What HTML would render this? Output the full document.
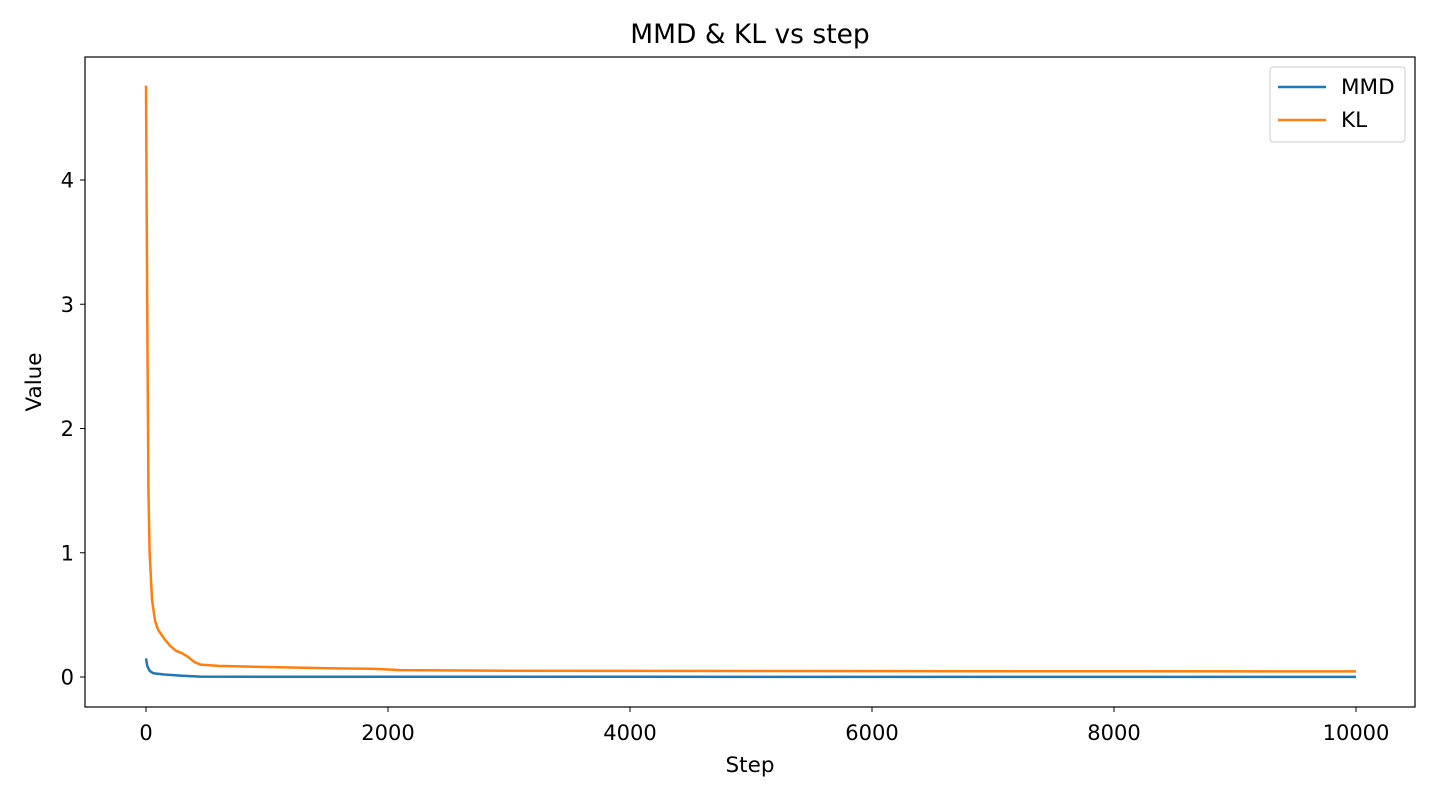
<!DOCTYPE html>
<html><head><meta charset="utf-8"><style>
body{margin:0;background:#fff;font-family:"Liberation Sans","DejaVu Sans",sans-serif}
</style></head><body>
<svg width="1440" height="800" viewBox="0 0 1440 800" id="chart" font-family="DejaVu Sans, Liberation Sans, sans-serif">
<rect width="1440" height="800" fill="#fff"/>
<text x="750" y="43" text-anchor="middle" font-size="26.5">MMD &amp; KL vs step</text>
<g id="plot"></g>
<rect x="85" y="57" width="1330" height="650" fill="none" stroke="#000" stroke-width="1.2"/>
<text x="750" y="772" text-anchor="middle" font-size="21.5">Step</text>
<text transform="translate(41,382) rotate(-90)" text-anchor="middle" font-size="21.5">Value</text>
<g>
<rect x="1270" y="67" width="135" height="75" rx="3" fill="#fff" stroke="#ccc"/>
<line x1="1278" y1="87" x2="1326" y2="87" stroke="#1f77b4" stroke-width="2.5"/>
<text x="1341" y="94" font-size="21.5">MMD</text>
<line x1="1278" y1="120" x2="1326" y2="120" stroke="#ff7f0e" stroke-width="2.5"/>
<text x="1341" y="127" font-size="21.5">KL</text>
</g>
</svg>
<script>
const steps = [0,10,20,30,50,75,100,150,200,250,300,350,400,450,600,1000,1500,1900,2100,3000,5000,10000];
const klValues = [4.76,3.0,1.5,1.0,0.62,0.45,0.38,0.31,0.25,0.21,0.19,0.16,0.12,0.10,0.09,0.08,0.07,0.065,0.055,0.05,0.048,0.045];
const mmdSteps = [0,10,30,60,150,300,450,1000,5000,10000];
const mmdValues = [0.15,0.09,0.05,0.03,0.02,0.01,0.003,0.002,0.0015,0.001];
const xTicks = [0,2000,4000,6000,8000,10000];
const yTicks = [0,1,2,3,4];
const NS = 'http://www.w3.org/2000/svg';
const xs = v => 146 + v * (1356 - 146) / 10000;
const ys = v => 677 - v * 124.25;
const g = document.getElementById('plot');
function mk(tag, attrs){const e=document.createElementNS(NS,tag);for(const k in attrs)e.setAttribute(k,attrs[k]);g.appendChild(e);return e;}
xTicks.forEach(t=>{
  const l=mk('line',{x1:xs(t),x2:xs(t),y1:707,y2:712,stroke:'#000','stroke-width':1});
  
  
  const tx=mk('text',{x:xs(t),y:740,'text-anchor':'middle','font-size':21});
  tx.textContent=t;
  
  
});
yTicks.forEach(t=>{
  const l=mk('line',{x1:80,x2:85,y1:ys(t),y2:ys(t),stroke:'#000','stroke-width':1});
  
  
  const tx=mk('text',{x:74,y:ys(t)+7.5,'text-anchor':'end','font-size':21});
  tx.textContent=t;
  
  
});
const mmd=mk('path',{d:mmdSteps.map((s,i)=>(i?'L':'M')+xs(s)+','+ys(mmdValues[i])).join(''),fill:'none',stroke:'#1f77b4','stroke-width':2.5,'stroke-linejoin':'round'});


const kl=mk('path',{d:steps.map((s,i)=>(i?'L':'M')+xs(s)+','+ys(klValues[i])).join(''),fill:'none',stroke:'#ff7f0e','stroke-width':2.5,'stroke-linejoin':'round'});


</script>
</body></html>
